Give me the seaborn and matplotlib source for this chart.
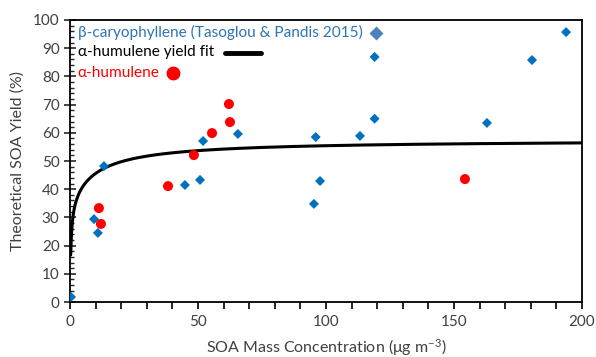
import numpy as np
import pandas as pd
import seaborn as sns
import matplotlib.pyplot as plt
from matplotlib.ticker import MultipleLocator

# beta-caryophyllene (Tasoglou & Pandis 2015)
bcary_mass = [0.4, 9.4, 10.9, 13.3, 44.9, 50.8, 52.0, 65.6, 95.3, 96.0,
              97.7, 113.3, 119.0, 119.0, 162.9, 180.5, 193.8]
bcary_yield = [1.8, 29.4, 24.5, 48.2, 41.5, 43.3, 57.1, 59.6, 34.8, 58.5,
               42.9, 58.9, 65.0, 86.9, 63.5, 85.8, 95.7]

# alpha-humulene
ahum_mass = [11.3, 12.1, 38.3, 48.4, 55.5, 62.1, 62.5, 154.3]
ahum_yield = [33.3, 27.7, 41.1, 52.1, 59.9, 70.2, 63.8, 43.6]

# two-product yield fit parameters (alpha in %, K in m3/ug)
fit_a1, fit_k1 = 36.0, 3.0
fit_a2, fit_k2 = 21.5, 0.1
fit_mass = np.linspace(0.27, 200, 600)
fit_yield = fit_mass * (fit_a1 * fit_k1 / (1 + fit_k1 * fit_mass)
                        + fit_a2 * fit_k2 / (1 + fit_k2 * fit_mass))

sns.set_style("white")
plt.rcParams['font.family'] = ['Lato', 'DejaVu Sans']
plt.rcParams['mathtext.default'] = 'regular'

blue = '#0070C0'
red = '#FF0000'

fig = plt.figure(figsize=(5.96, 3.57), dpi=100)
ax = fig.add_axes([0.1174, 0.154, 0.859, 0.790])

df_b = pd.DataFrame({'mass': bcary_mass, 'yield': bcary_yield})
df_a = pd.DataFrame({'mass': ahum_mass, 'yield': ahum_yield})
df_f = pd.DataFrame({'mass': fit_mass, 'yield': fit_yield})

sns.lineplot(data=df_f, x='mass', y='yield', color='black', lw=2.2,
             ax=ax, zorder=2)
sns.scatterplot(data=df_b, x='mass', y='yield', marker='D', s=26,
                color=blue, edgecolor='none', ax=ax, zorder=3)
sns.scatterplot(data=df_a, x='mass', y='yield', marker='o', s=52,
                color=red, edgecolor='none', ax=ax, zorder=3)

ax.set_xlim(0, 200)
ax.set_ylim(0, 100)
ax.xaxis.set_major_locator(MultipleLocator(50))
ax.xaxis.set_minor_locator(MultipleLocator(10))
ax.yaxis.set_major_locator(MultipleLocator(10))
ax.yaxis.set_minor_locator(MultipleLocator(2))
ax.tick_params(axis='x', which='both', direction='out', length=5,
               width=1.2, bottom=True, labelsize=11, colors='black',
               labelcolor='#404040', pad=4)
ax.tick_params(axis='y', which='major', direction='inout', length=8,
               width=1.2, left=True, labelsize=11, labelcolor='#404040')
ax.tick_params(axis='y', which='minor', direction='in', length=3,
               width=1.0, left=True)
for sp in ax.spines.values():
    sp.set_color('black')
    sp.set_linewidth(1.3)

ax.set_xlabel('SOA Mass Concentration (μg m$^{-3}$)', fontsize=11.5,
              color='#404040', labelpad=6)
ax.set_ylabel('Theoretical SOA Yield (%)', fontsize=11.5,
              color='#404040', labelpad=6)

# legend drawn as text with markers, like the original
ax.text(0.015, 0.955, 'β-caryophyllene (Tasoglou & Pandis 2015)',
        transform=ax.transAxes, fontsize=11.1, color='#2E75B6', va='center')
ax.plot([0.598], [0.955], transform=ax.transAxes, marker='D', ms=7.5,
        color='#4F81BD', mec='none', clip_on=False)
ax.text(0.015, 0.885, 'α-humulene yield fit', transform=ax.transAxes,
        fontsize=11.1, color='black', va='center')
ax.plot([0.302, 0.373], [0.883, 0.883], transform=ax.transAxes,
        color='black', lw=3.5)
ax.text(0.015, 0.813, 'α-humulene', transform=ax.transAxes,
        fontsize=11.1, color=red, va='center')
ax.plot([0.2015], [0.813], transform=ax.transAxes, marker='o', ms=10,
        color=red, mec='none')

fig.savefig('out.png', dpi=100)
